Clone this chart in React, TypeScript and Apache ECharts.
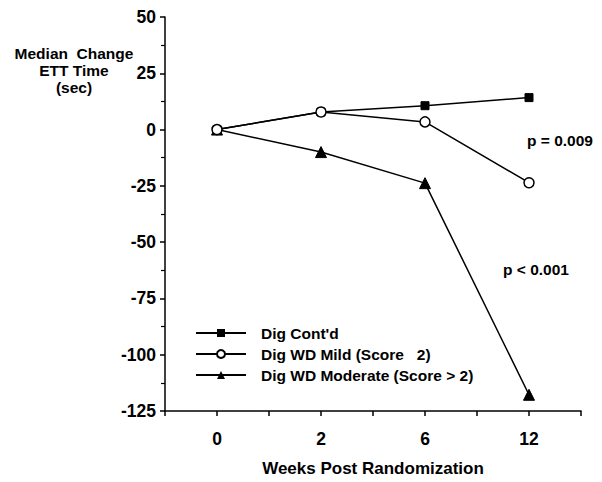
import React, { useEffect, useRef } from "react";
import * as echarts from "echarts";

const weekLabels = ["0", "2", "6", "12"];
const digContd = [0, 7.8, 10.6, 14.2];
const digWdMild = [0, 7.8, 3.4, -23.6];
const digWdModerate = [0, -10, -23.8, -117.8];
const yTicks = [-125, 50, 25];

const FONT = "Liberation Sans, Arial, sans-serif";

export default function App() {
  const ref = useRef<HTMLDivElement>(null);
  useEffect(() => {
    if (!ref.current) return;
    const chart = echarts.init(ref.current, null, { renderer: "svg" });
    const toPts = (arr: number[]) => arr.map((v, i) => [i, v]);
    chart.setOption({
      animation: false,
      backgroundColor: "#fff",
      textStyle: { fontFamily: FONT },
      grid: { left: 165, right: 21, top: 17, bottom: 66 },
      legend: {
        orient: "vertical",
        left: 190,
        top: 320,
        itemWidth: 50,
        itemHeight: 10,
        itemGap: 5,
        textStyle: { fontFamily: FONT, fontWeight: "bold", fontSize: 15.5, color: "#000", padding: [0, 0, 0, 10] },
        data: ["Dig Cont'd", "Dig WD Mild (Score   2)", "Dig WD Moderate (Score > 2)"],
      },
      xAxis: {
        type: "value",
        min: -0.5,
        max: 3.5,
        interval: 0.5,
        splitLine: { show: false },
        axisLine: { onZero: false, lineStyle: { color: "#000", width: 1.5 } },
        axisTick: { show: true, inside: false, length: 5, lineStyle: { color: "#000", width: 1.5 } },
        axisLabel: {
          color: "#000",
          fontFamily: FONT,
          fontWeight: "bold",
          fontSize: 17.5,
          margin: 19,
          formatter: (v: number) => (Number.isInteger(v) && v >= 0 && v <= 3 ? weekLabels[v] : ""),
        },
        name: "Weeks Post Randomization",
        nameLocation: "middle",
        nameGap: 49,
        nameTextStyle: { color: "#000", fontFamily: FONT, fontWeight: "bold", fontSize: 17 },
      },
      yAxis: {
        type: "value",
        min: yTicks[0],
        max: yTicks[1],
        interval: yTicks[2],
        splitLine: { show: false },
        axisLine: { show: true, onZero: false, lineStyle: { color: "#000", width: 1.5 } },
        axisTick: { show: true, length: 5, lineStyle: { color: "#000", width: 1.5 } },
        minorTick: { show: true, splitNumber: 2, length: 4, lineStyle: { color: "#000", width: 1.2 } },
        axisLabel: { color: "#000", fontFamily: FONT, fontWeight: "bold", fontSize: 17.5, margin: 9 },
      },
      graphic: [
        {
          type: "text",
          x: 74,
          y: 45,
          style: {
            text: "Median  Change\nETT Time\n(sec)",
            fill: "#000",
            font: "bold 15.5px Liberation Sans, Arial, sans-serif",
            lineHeight: 17,
            align: "center",
            verticalAlign: "top",
          },
        },
        {
          type: "text",
          x: 527,
          y: 132,
          style: { text: "p = 0.009", fill: "#000", font: "bold 15.5px Liberation Sans, Arial, sans-serif" },
        },
        {
          type: "text",
          x: 503,
          y: 261,
          style: { text: "p < 0.001", fill: "#000", font: "bold 15.5px Liberation Sans, Arial, sans-serif" },
        },
      ],
      series: [
        {
          name: "Dig Cont'd",
          type: "line",
          data: toPts(digContd),
          symbol: "rect",
          symbolSize: 8,
          lineStyle: { color: "#000", width: 1.5 },
          itemStyle: { color: "#000", borderColor: "#000" },
          z: 3,
        },
        {
          name: "Dig WD Mild (Score   2)",
          type: "line",
          data: toPts(digWdMild),
          symbol: "circle",
          symbolSize: 10,
          showAllSymbol: true,
          lineStyle: { color: "#000", width: 1.5 },
          itemStyle: { color: "#fff", borderColor: "#000", borderWidth: 1.5 },
          z: 4,
        },
        {
          name: "Dig WD Moderate (Score > 2)",
          type: "line",
          data: toPts(digWdModerate),
          symbol: "triangle",
          symbolSize: 11,
          lineStyle: { color: "#000", width: 1.5 },
          itemStyle: { color: "#000", borderColor: "#000" },
          z: 2,
        },
      ],
    });
    return () => chart.dispose();
  }, []);
  return <div ref={ref} style={{ position: "absolute", left: 0, top: 0, width: 602, height: 482 }} />;
}
